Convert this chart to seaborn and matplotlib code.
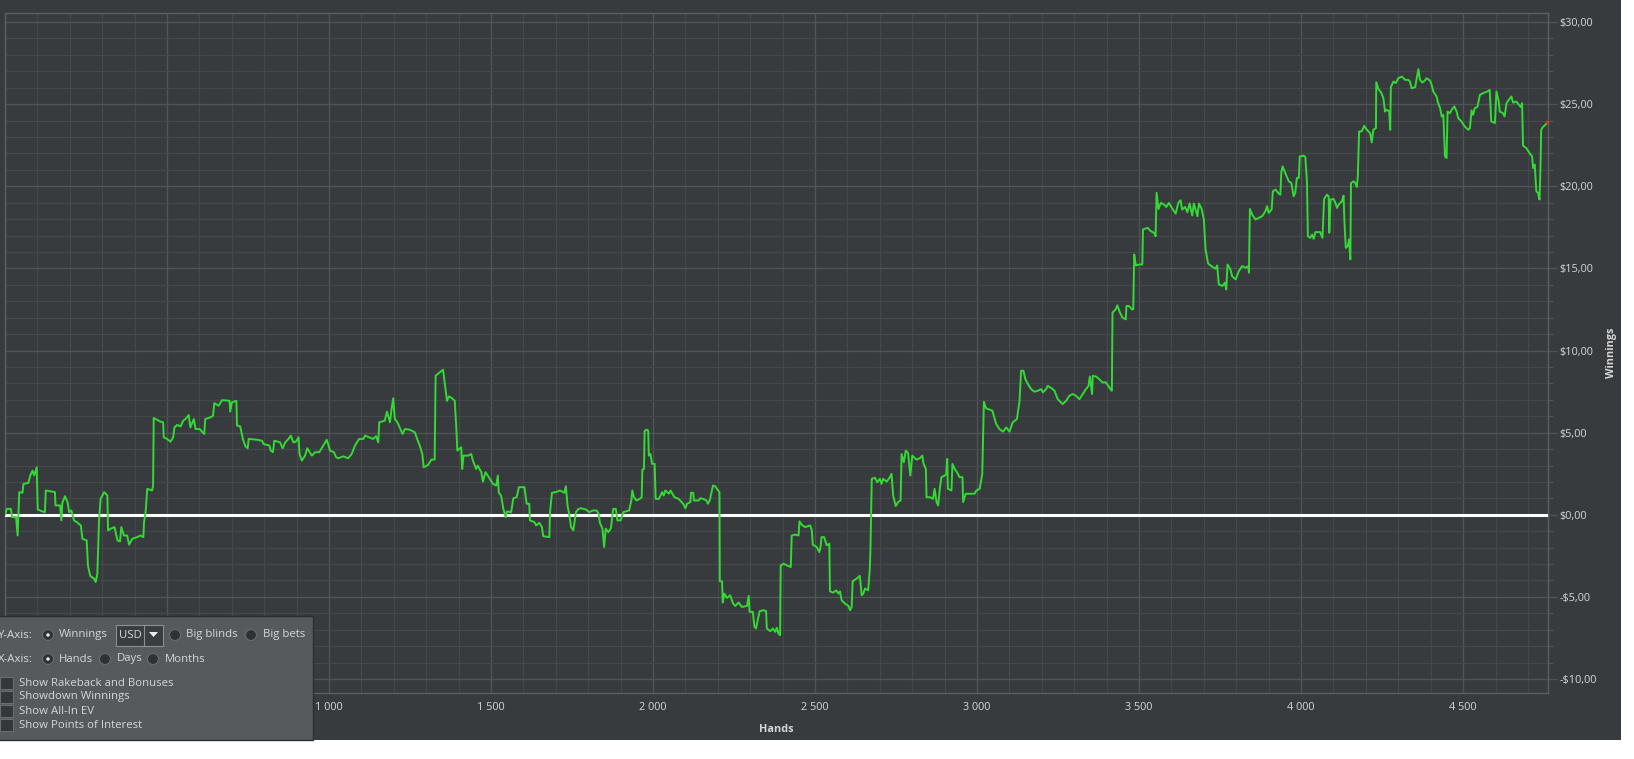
import numpy as np
import pandas as pd
import matplotlib
matplotlib.use("Agg")
import matplotlib.pyplot as plt
import seaborn as sns
from matplotlib.patches import Rectangle, Ellipse, Polygon
from matplotlib.ticker import FuncFormatter, MultipleLocator

sns.set_theme(style="dark")
plt.rcParams["font.family"] = ["Open Sans", "DejaVu Sans"]

# cumulative winnings (USD), hand by hand
hands_a = [0, 6, 18, 22, 34, 39, 44, 54, 57, 72, 78, 85, 90, 98, 101, 116, 123, 126, 142, 154,
           156, 170, 174, 177, 185, 193, 198, 205, 213, 222, 234, 239, 252, 256, 263, 275, 280, 285, 290, 295,
           306, 316, 318, 326, 338, 347, 355, 359, 367, 377, 383, 393, 408, 418, 427, 429, 434, 439, 454, 457,
           459, 480, 488, 490, 500, 511, 519, 523, 531, 542, 550, 557, 567, 572, 583, 588, 601, 608, 615, 618,
           634, 642, 646, 659, 670, 693, 695, 700, 714, 716, 726, 734, 742, 749, 752, 777, 793, 798, 816, 820,
           827, 831, 849, 857, 865, 875, 882, 890, 898, 906, 909, 916, 926, 933, 947, 957, 970]
win_a = [0.0, 0.36, 0.36, -0.14, -0.14, -1.26, 1.38, 1.34, 1.88, 1.94,
         2.39, 2.69, 2.39, 2.89, 0.32, 0.20, 0.16, 1.48, 1.42, 1.38,
         0.57, 0.57, -0.34, 0.73, 1.13, 0.77, 0.16, 0.26, -0.34, -0.45,
         -0.65, -1.46, -1.56, -3.08, -3.72, -3.89, -4.09, -3.58, -0.45, 0.97,
         1.38, 1.17, -0.95, -0.85, -0.75, -1.56, -1.62, -0.75, -1.26, -1.26,
         -1.82, -1.46, -1.36, -1.26, -1.36, -0.45, 0.16, 1.58, 1.48, 1.78,
         5.89, 5.67, 5.63, 4.72, 4.62, 4.45, 4.72, 5.32, 5.47, 5.38,
         5.73, 5.83, 6.07, 5.32, 5.83, 5.22, 5.22, 5.06, 4.92, 5.83,
         5.93, 6.03, 6.80, 6.64, 6.98, 6.94, 6.28, 6.84, 6.94, 5.43,
         5.38, 4.62, 4.17, 4.05, 4.62, 4.57, 4.51, 4.31, 4.21, 3.91,
         3.81, 4.51, 4.41, 4.05, 4.41, 4.62, 4.82, 4.41, 4.45, 4.72,
         3.70, 3.30, 3.60, 4.05, 3.60, 3.81, 3.81]

hands_b = [993, 1003, 1015, 1022, 1029, 1044, 1059, 1070, 1080, 1093, 1106, 1111, 1136, 1145, 1152, 1155,
           1172, 1179, 1188, 1193, 1198, 1203, 1210, 1218, 1227, 1234, 1249, 1265, 1272, 1280, 1288, 1292,
           1306, 1316, 1326, 1329, 1341, 1352, 1357, 1364, 1370, 1380, 1388, 1393, 1396, 1408, 1411, 1415,
           1429, 1439, 1444, 1454, 1459, 1470, 1475, 1483, 1495, 1506, 1516, 1521, 1524, 1531, 1538, 1545,
           1549, 1562, 1569, 1579, 1586, 1603, 1610, 1618, 1620, 1634, 1639, 1649, 1657, 1661, 1680, 1682,
           1688, 1700, 1713, 1726, 1731, 1736, 1741, 1747, 1754, 1762, 1770, 1777, 1793, 1803, 1813, 1826,
           1832, 1836, 1844, 1849, 1854, 1862, 1870, 1877, 1885, 1890, 1900, 1908]
win_b = [4.57, 3.91, 3.81, 3.50, 3.44, 3.56, 3.44, 3.70, 4.21, 4.62, 4.62, 4.82, 4.62, 4.78, 4.41, 5.63,
         5.73, 6.28, 5.63, 6.44, 7.09, 5.83, 5.67, 5.32, 4.92, 5.22, 5.18, 5.02, 4.62, 4.21, 3.70, 2.89,
         3.04, 3.36, 3.36, 8.46, 8.66, 8.83, 8.06, 6.94, 7.21, 7.09, 6.94, 5.22, 3.91, 4.11, 2.79, 3.60,
         3.60, 3.70, 3.30, 2.79, 2.99, 2.59, 2.02, 2.59, 2.23, 1.88, 1.78, 2.39, 1.34, 1.17, 0.36, -0.14,
         0.20, 0.16, 1.01, 1.07, 1.68, 1.68, 0.67, 0.67, -0.34, -0.45, -0.65, -0.49, -0.75, -1.30, -1.36, 0.16,
         1.34, 1.38, 1.48, 1.34, 1.74, 0.57, 0.06, -0.75, -0.95, 0.16, 0.36, 0.40, 0.32, 0.16, 0.26, 0.26,
         0.06, -0.49, -0.85, -1.96, -0.85, -1.06, -0.81, 0.36, 0.36, -0.34, -0.34, 0.16]

hands_c = [1926, 1933, 1936, 1941, 1949, 1959, 1965, 1967, 1972, 1974, 1982, 1985, 1987, 1992, 1997, 2005,
           2008, 2018, 2028, 2033, 2038, 2049, 2054, 2066, 2079, 2093, 2100, 2105, 2115, 2117, 2124, 2126,
           2141, 2146, 2154, 2165, 2169, 2175, 2185, 2192, 2197, 2205, 2206, 2213, 2215, 2220, 2228, 2238,
           2247, 2254, 2264, 2274, 2290, 2295, 2298, 2308, 2313, 2318, 2323, 2329, 2341, 2349, 2351, 2362,
           2370, 2377, 2382, 2387, 2392, 2394, 2403, 2413, 2425, 2428, 2438, 2449, 2452, 2459, 2469, 2485,
           2490, 2493, 2505, 2513, 2517, 2520, 2528, 2536, 2544, 2546, 2556, 2565, 2572, 2577, 2582, 2592,
           2603, 2608, 2613, 2616, 2628, 2638, 2644, 2649, 2654, 2664, 2669, 2671, 2675, 2685, 2692, 2700,
           2705, 2710, 2721, 2731, 2736, 2741, 2749, 2756, 2764, 2767, 2774, 2780, 2787, 2794, 2800, 2813,
           2823, 2831, 2835, 2842, 2844]
win_c = [0.26, 0.87, 1.48, 1.07, 0.87, 0.97, 1.07, 2.75, 2.79, 5.12, 5.18, 5.12, 3.60, 3.70, 3.10, 3.10,
         0.97, 0.97, 1.38, 1.17, 1.48, 1.28, 1.48, 1.07, 0.97, 0.67, 0.40, 0.67, 0.77, 1.34, 1.34, 0.87,
         0.87, 1.01, 0.97, 0.87, 0.67, 0.87, 1.78, 1.74, 1.58, 1.38, -4.05, -4.05, -5.34, -4.80, -5.06, -4.90,
         -5.40, -5.55, -5.34, -5.61, -5.55, -4.94, -5.91, -5.91, -6.82, -6.92, -6.42, -5.87, -5.81, -5.87, -6.92, -7.09,
         -6.92, -7.13, -6.88, -7.23, -7.33, -3.08, -2.98, -3.08, -3.18, -1.26, -1.21, -1.26, -0.40, -0.61, -0.75, -0.65,
         -0.95, -1.82, -1.96, -2.27, -1.96, -1.36, -1.36, -1.86, -1.76, -4.66, -4.74, -4.60, -4.80, -4.66, -5.20, -5.40,
         -5.55, -5.81, -5.61, -4.05, -3.89, -3.72, -4.90, -4.80, -4.49, -4.60, -3.28, -2.06, 2.19, 2.25, 1.98, 2.19,
         1.88, 2.19, 2.02, 2.29, 2.49, 1.17, 0.53, 0.77, 0.87, 3.70, 3.20, 3.91, 3.77, 2.39, 3.60, 3.36,
         3.44, 3.60, 3.10, 2.79, 1.07]

hands_d = [2854, 2864, 2869, 2875, 2880, 2885, 2890, 2900, 2905, 2908, 2910, 2921, 2924, 2931, 2938, 2946,
           2955, 2957, 2965, 2977, 2992, 2998, 3008, 3016, 3021, 3028, 3039, 3047, 3059, 3069, 3080, 3090,
           3100, 3110, 3123, 3131, 3136, 3143, 3149, 3157, 3167, 3177, 3187, 3198, 3203, 3213, 3218, 3231,
           3239, 3249, 3264, 3275, 3285, 3295, 3305, 3316, 3326, 3336, 3344, 3348, 3355, 3357, 3367, 3377,
           3387, 3398, 3408, 3416, 3418, 3428, 3433, 3441, 3449, 3459, 3461, 3469, 3478, 3482, 3485, 3490,
           3500, 3510, 3512, 3526, 3536, 3546, 3551, 3554, 3560, 3567, 3577, 3584, 3592, 3603, 3613, 3621,
           3628, 3633, 3642, 3649, 3656, 3664, 3669, 3680, 3685, 3693, 3700, 3705, 3713, 3726, 3736, 3741,
           3746, 3757, 3765, 3769, 3773, 3782, 3787, 3798, 3808]
win_d = [1.07, 0.97, 1.58, 0.77, 0.57, 1.58, 2.29, 2.39, 2.49, 3.40, 1.58, 1.48, 3.10, 2.79, 2.59, 2.29,
         2.29, 0.77, 1.28, 1.28, 1.28, 1.48, 1.58, 2.49, 6.88, 6.48, 6.40, 6.34, 5.53, 5.22, 5.06, 5.32,
         5.06, 5.63, 5.83, 6.94, 8.77, 8.77, 8.26, 7.96, 7.65, 7.49, 7.55, 7.65, 7.45, 7.65, 7.85, 7.69,
         7.55, 7.04, 6.74, 6.94, 7.25, 7.35, 7.25, 7.04, 7.35, 7.65, 7.85, 8.42, 7.35, 8.46, 8.42, 8.26,
         8.06, 8.06, 7.75, 7.55, 12.31, 12.51, 12.75, 12.31, 12.00, 11.90, 12.71, 12.71, 12.51, 12.51, 15.85, 15.18,
         15.24, 15.24, 17.37, 17.47, 17.27, 17.17, 16.96, 19.60, 18.62, 18.99, 18.89, 18.74, 18.99, 18.62, 18.34, 18.99,
         19.15, 18.58, 18.74, 18.42, 18.95, 18.22, 18.95, 18.18, 18.95, 18.62, 17.98, 16.19, 15.30, 15.10, 14.98, 15.18,
         14.03, 13.93, 14.13, 13.72, 15.24, 14.94, 14.53, 14.33, 14.84]

hands_e = [3818, 3829, 3837, 3839, 3842, 3849, 3859, 3870, 3880, 3890, 3895, 3900, 3909, 3913, 3921, 3931,
           3936, 3939, 3943, 3952, 3962, 3970, 3977, 3982, 3987, 3993, 3996, 4008, 4013, 4018, 4021, 4028,
           4034, 4039, 4044, 4059, 4066, 4071, 4080, 4085, 4087, 4091, 4100, 4105, 4111, 4116, 4121, 4126,
           4131, 4134, 4138, 4144, 4148, 4152, 4154, 4162, 4167, 4172, 4175, 4179, 4187, 4195, 4203, 4213,
           4218, 4223, 4231, 4232, 4239, 4247, 4254, 4259, 4264, 4272, 4275, 4277, 4285, 4292, 4300, 4311,
           4321, 4331, 4336, 4341, 4352, 4357, 4362, 4367, 4374, 4382, 4387, 4398, 4403, 4408, 4418, 4423,
           4429, 4434, 4439, 4444, 4449, 4452, 4459, 4466, 4473, 4480, 4485, 4495, 4505, 4516, 4521, 4526,
           4531, 4536, 4544, 4552, 4562, 4575, 4582, 4587, 4598, 4603, 4610, 4613, 4623, 4628, 4634, 4641,
           4649, 4654, 4664, 4670, 4678, 4682, 4685, 4695, 4705, 4713, 4716, 4721, 4726, 4731, 4736, 4739,
           4741, 4746, 4757, 4759]
win_e = [15.14, 15.04, 15.14, 14.74, 18.62, 18.28, 17.98, 18.08, 18.18, 18.48, 18.79, 18.38, 18.58, 19.70, 19.80, 19.55,
         19.49, 20.85, 21.21, 20.77, 20.30, 20.20, 19.39, 19.60, 20.51, 20.51, 21.82, 21.86, 21.78, 20.30, 16.96, 16.86,
         17.06, 16.80, 17.21, 17.21, 16.86, 19.23, 19.49, 19.39, 17.17, 19.19, 19.23, 19.03, 18.68, 18.89, 18.99, 19.09,
         19.43, 17.77, 16.25, 16.36, 16.76, 15.55, 20.20, 20.30, 20.20, 19.96, 20.61, 23.34, 23.34, 23.68, 23.44, 23.24,
         22.67, 23.44, 23.54, 26.34, 25.91, 25.71, 25.36, 24.55, 24.66, 24.55, 23.44, 26.03, 26.38, 26.28, 26.58, 26.68,
         26.48, 26.48, 26.38, 25.97, 26.03, 26.58, 27.13, 26.48, 26.32, 26.44, 26.58, 26.44, 26.17, 25.77, 25.47, 25.06,
         24.76, 24.25, 24.35, 21.82, 21.72, 24.55, 24.45, 24.70, 24.86, 24.55, 24.15, 23.95, 23.64, 23.44, 23.54, 24.62,
         24.35, 24.76, 24.82, 25.57, 25.67, 25.77, 25.87, 23.95, 23.85, 25.77, 25.16, 24.55, 24.45, 24.25, 25.06, 25.26,
         25.47, 25.10, 25.16, 25.02, 24.82, 25.06, 22.47, 22.33, 22.02, 21.82, 21.11, 21.32, 19.70, 19.60, 19.19, 21.32,
         23.44, 23.60, 23.80, 23.89]

df = pd.DataFrame({
    "hands": hands_a + hands_b + hands_c + hands_d + hands_e,
    "winnings": win_a + win_b + win_c + win_d + win_e,
})

x_ticks = [1000, 1500, 2000, 2500, 3000, 3500, 4000, 4500]
y_ticks = [-10, -5, 0, 5, 10, 15, 20, 25, 30]

BG = "#383b3e"
GRID_MAJ = "#515457"
GRID_MIN = "#45484b"
TXT = "#d6d6d6"
GREEN = "#35d935"

W, H = 1634, 759
fig = plt.figure(figsize=(W / 100, H / 100), dpi=100, facecolor="white")

# dark application background
bg = fig.add_axes([0, 0, 1, 1], zorder=0)
bg.set_xlim(0, W)
bg.set_ylim(H, 0)
bg.axis("off")
bg.add_patch(Rectangle((0, 0), 1621, 740, facecolor=BG, edgecolor="none"))

ax = fig.add_axes([5 / W, 1 - 693 / H, 1543 / W, 680 / H], zorder=1)
ax.set_facecolor(BG)

sns.lineplot(data=df, x="hands", y="winnings", ax=ax, color=GREEN, lw=1.4,
             estimator=None, sort=False, zorder=4)
ax.axhline(0, color="white", lw=2.2, zorder=3)
ax.plot(df["hands"].iloc[-1], df["winnings"].iloc[-1], marker="s", ms=1.6, color="#e03020", zorder=5)

ax.set_xlim(0, 4762)
ax.set_ylim(-10.85, 30.55)
ax.xaxis.set_major_locator(MultipleLocator(500))
ax.xaxis.set_minor_locator(MultipleLocator(100))
ax.yaxis.set_major_locator(MultipleLocator(5))
ax.yaxis.set_minor_locator(MultipleLocator(1))
ax.grid(which="major", color=GRID_MAJ, lw=1.0, zorder=1)
ax.grid(which="minor", color=GRID_MIN, lw=0.9, zorder=1)
ax.set_axisbelow(True)

ax.yaxis.tick_right()
ax.yaxis.set_label_position("right")
ax.xaxis.set_major_formatter(FuncFormatter(lambda v, p: f"{int(v):,}".replace(",", " ") if v in x_ticks else ""))


def money(v, p):
    v = int(round(v))
    if v not in y_ticks:
        return ""
    return f"-${abs(v)},00" if v < 0 else f"${v},00"


ax.yaxis.set_major_formatter(FuncFormatter(money))
ax.tick_params(axis="x", which="both", colors=GRID_MAJ, labelcolor=TXT, labelsize=7.8,
               length=3, width=1, pad=3.5, direction="out")
ax.tick_params(axis="y", which="major", colors=GRID_MAJ, labelcolor=TXT, labelsize=7.8,
               length=6.5, width=1, pad=1.5, right=True, left=False)
ax.tick_params(axis="y", which="minor", colors=GRID_MAJ, length=3.5, width=1, right=True, left=False)
for s in ax.spines.values():
    s.set_color("#5c5f62")
    s.set_linewidth(1)

ax.set_xlabel("Hands", color=TXT, fontsize=7.8, fontweight="bold", labelpad=8)
ax.set_ylabel("Winnings", color=TXT, fontsize=7.8, fontweight="bold", labelpad=7, rotation=90)

# options panel in the lower left corner
ov = fig.add_axes([0, 0, 1, 1], zorder=5)
ov.set_xlim(0, W)
ov.set_ylim(H, 0)
ov.axis("off")
ov.patch.set_alpha(0)
ov.add_patch(Rectangle((-2, 616), 315, 124, facecolor="#575a5d", edgecolor="#2c2f32", lw=1))

fs = 8.2


def label(x, y, s):
    ov.text(x, y, s, color=TXT, fontsize=fs, va="center", ha="left")


def radio(x, y, on):
    ov.add_patch(Ellipse((x, y), 11, 11, facecolor="#2f3235", edgecolor="#6a6d70", lw=0.8))
    if on:
        ov.add_patch(Ellipse((x, y), 3.5, 3.5, facecolor="#e8e8e8", edgecolor="none"))


label(-2, 635, "Y-Axis:")
radio(48, 635, True)
label(59, 635, "Winnings")
ov.add_patch(Rectangle((116, 625), 47, 21, facecolor="#3a3d40", edgecolor="#8c8f92", lw=0.8))
ov.plot([144.5, 144.5], [625, 646], color="#8c8f92", lw=0.8)
label(119, 636, "USD")
ov.add_patch(Polygon([[149, 632], [158, 632], [153.5, 637]], closed=True, facecolor="#eeeeee", edgecolor="none"))
radio(175, 635, False)
label(186, 635, "Big blinds")
radio(251, 635, False)
label(263, 635, "Big bets")

label(-2, 659, "X-Axis:")
radio(48, 659, True)
label(59, 659, "Hands")
radio(105, 659, False)
label(117, 659, "Days")
radio(153, 659, False)
label(165, 659, "Months")

checks = ["Show Rakeback and Bonuses", "Showdown Winnings", "Show All-In EV", "Show Points of Interest"]
for i, name in enumerate(checks):
    yc = 683 + 14 * i
    ov.add_patch(Rectangle((0, yc - 6), 13, 12, facecolor="#34373a", edgecolor="#6a6d70", lw=0.8))
    label(19, yc, name)

fig.savefig("out.png", dpi=100, facecolor="white")
